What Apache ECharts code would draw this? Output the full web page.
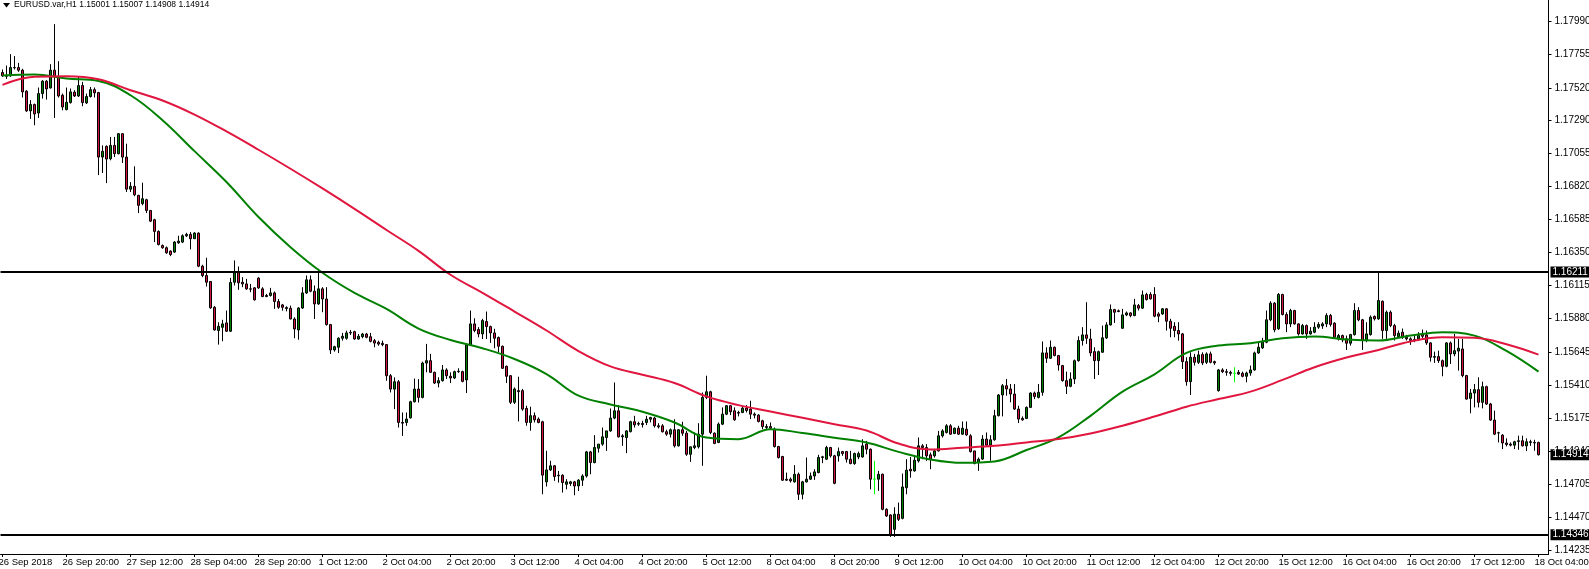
<!DOCTYPE html>
<html><head><meta charset="utf-8">
<script src="https://cdn.jsdelivr.net/npm/echarts@6/dist/echarts.min.js"></script>
<style>html,body{margin:0;padding:0;background:#fff;overflow:hidden}#c{width:1589px;height:569px}</style>
</head><body><div id="c"></div>
<script>
// ---------------- DATA ----------------
const symbolTitle = 'EURUSD.var,H1';
const headerOHLC = ['1.15001', '1.15007', '1.14908', '1.14914'];
const firstBarUTC = Date.UTC(2018, 8, 26, 4); // 26 Sep 2018 04:00, hourly bars, weekends skipped
const emptyBarsRight = 2;

const opens = [
1.17628,1.17609,1.17605,1.17664,1.17664,1.17645,1.17496,1.17356,1.17401,1.17341,
1.17479,1.17567,1.17519,1.17645,1.17602,1.17467,1.17365,1.17415,1.17489,1.17462,
1.17536,1.17413,1.17458,1.17507,1.17486,1.17028,1.17104,1.17016,1.17111,1.17052,
1.17194,1.17028,1.16800,1.16820,1.16756,1.16697,1.16725,1.16649,1.16583,1.16500,
1.16400,1.16384,1.16360,1.16353,1.16419,1.16424,1.16469,1.16479,1.16448,1.16488,
1.16253,1.16187,1.16144,1.15961,1.15796,1.15819,1.15850,1.15791,1.16139,1.16211,
1.16139,1.16127,1.16092,1.16099,1.16168,1.16092,1.16045,1.16045,1.16063,1.16002,
1.15978,1.15959,1.15954,1.15878,1.15800,1.15956,1.16063,1.16156,1.16075,1.15985,
1.16092,1.16020,1.15838,1.15658,1.15677,1.15741,1.15741,1.15783,1.15788,1.15736,
1.15752,1.15771,1.15752,1.15724,1.15712,1.15705,1.15696,1.15475,1.15380,1.15432,
1.15143,1.15143,1.15176,1.15290,1.15380,1.15321,1.15565,1.15582,1.15499,1.15423,
1.15440,1.15516,1.15471,1.15459,1.15504,1.15504,1.15445,1.15694,1.15843,1.15803,
1.15772,1.15860,1.15824,1.15779,1.15746,1.15684,1.15542,1.15475,1.15286,1.15369,
1.15369,1.15243,1.15143,1.15191,1.15167,1.15148,1.14721,1.14806,1.14835,1.14764,
1.14768,1.14704,1.14709,1.14721,1.14692,1.14733,1.14763,1.14934,1.14858,1.14960,
1.14989,1.15036,1.15083,1.15174,1.15226,1.15041,1.15036,1.15078,1.15148,1.15131,
1.15136,1.15143,1.15166,1.15174,1.15119,1.15119,1.15077,1.15060,1.15091,1.14977,
1.15091,1.15067,1.14917,1.14965,1.14970,1.15060,1.15321,1.15361,1.15067,1.15001,
1.15131,1.15202,1.15262,1.15226,1.15214,1.15214,1.15245,1.15238,1.15202,1.15195,
1.15155,1.15114,1.15114,1.15095,1.14972,1.14901,1.14740,1.14740,1.14721,1.14775,
1.14633,1.14721,1.14740,1.14763,1.14787,1.14894,1.14882,1.14965,1.14906,1.14906,
1.14936,1.14936,1.14882,1.14851,1.14898,1.14898,1.14989,1.14953,1.14740,1.14740,
1.14775,1.14526,1.14486,1.14384,1.14491,1.14462,1.14680,1.14811,1.14799,1.14870,
1.14977,1.14965,1.14913,1.14906,1.14941,1.15048,1.15072,1.15119,1.15065,1.15102,
1.15060,1.15095,1.15048,1.14941,1.14858,1.14883,1.15025,1.14982,1.15020,1.15191,
1.15338,1.15404,1.15381,1.15345,1.15238,1.15172,1.15172,1.15250,1.15352,1.15321,
1.15357,1.15637,1.15599,1.15677,1.15618,1.15547,1.15440,1.15400,1.15452,1.15582,
1.15725,1.15765,1.15736,1.15646,1.15582,1.15642,1.15744,1.15836,1.15945,1.15936,
1.15812,1.15907,1.15921,1.15902,1.15973,1.15955,1.16052,1.16052,1.16052,1.15914,
1.15914,1.15950,1.15862,1.15826,1.15796,1.15772,1.15575,1.15433,1.15606,1.15570,
1.15625,1.15570,1.15630,1.15575,1.15369,1.15516,1.15504,1.15499,1.15492,1.15499,
1.15492,1.15471,1.15494,1.15516,1.15637,1.15673,1.15713,1.15872,1.15990,1.15808,
1.16052,1.15910,1.15843,1.15938,1.15843,1.15772,1.15831,1.15772,1.15784,1.15820,
1.15829,1.15843,1.15903,1.15848,1.15737,1.15760,1.15737,1.15706,1.15767,1.15938,
1.15872,1.15725,1.15767,1.15896,1.15879,1.16004,1.15796,1.15926,1.15831,1.15753,
1.15784,1.15748,1.15737,1.15725,1.15737,1.15772,1.15765,1.15708,1.15606,1.15611,
1.15582,1.15542,1.15708,1.15630,1.15650,1.15665,1.15476,1.15314,1.15352,1.15376,
1.15286,1.15397,1.15274,1.15160,1.15068,1.15053,1.14997,1.14989,1.14982,1.15008,
1.15013,1.14977,1.15006,1.15001,1.15001];

const highs = [
1.17650,1.17678,1.17759,1.17745,1.17697,1.17655,1.17503,1.17432,1.17408,1.17522,
1.17574,1.17574,1.17688,1.17972,1.17709,1.17479,1.17522,1.17515,1.17503,1.17602,
1.17562,1.17479,1.17526,1.17522,1.17491,1.17111,1.17111,1.17171,1.17171,1.17199,
1.17199,1.17123,1.16850,1.16962,1.16760,1.16846,1.16732,1.16652,1.16590,1.16507,
1.16407,1.16393,1.16365,1.16431,1.16469,1.16479,1.16490,1.16495,1.16495,1.16493,
1.16263,1.16313,1.16144,1.15969,1.15855,1.15872,1.15938,1.16170,1.16294,1.16251,
1.16175,1.16163,1.16127,1.16104,1.16175,1.16104,1.16056,1.16099,1.16073,1.16020,
1.15985,1.15968,1.15973,1.15890,1.15961,1.16104,1.16187,1.16187,1.16116,1.16234,
1.16104,1.16104,1.15843,1.15688,1.15748,1.15779,1.15795,1.15800,1.15795,1.15771,
1.15779,1.15779,1.15779,1.15736,1.15724,1.15724,1.15700,1.15487,1.15463,1.15444,
1.15214,1.15214,1.15297,1.15455,1.15451,1.15575,1.15701,1.15630,1.15504,1.15464,
1.15551,1.15528,1.15499,1.15511,1.15528,1.15511,1.15698,1.15938,1.15883,1.15820,
1.15879,1.15931,1.15831,1.15808,1.15753,1.15689,1.15547,1.15480,1.15392,1.15468,
1.15381,1.15262,1.15255,1.15214,1.15179,1.15155,1.14942,1.14871,1.14840,1.14799,
1.14775,1.14740,1.14728,1.14728,1.14740,1.14775,1.14941,1.14941,1.15053,1.14989,
1.15107,1.15083,1.15242,1.15427,1.15266,1.15060,1.15088,1.15155,1.15190,1.15148,
1.15155,1.15190,1.15183,1.15183,1.15138,1.15131,1.15091,1.15100,1.15166,1.15095,
1.15148,1.15083,1.14970,1.15072,1.15138,1.15356,1.15475,1.15368,1.15072,1.15143,
1.15250,1.15266,1.15266,1.15250,1.15226,1.15257,1.15266,1.15297,1.15214,1.15202,
1.15162,1.15131,1.15143,1.15107,1.14977,1.14906,1.14787,1.14752,1.14840,1.14787,
1.14728,1.14894,1.14787,1.14811,1.14913,1.14906,1.14977,1.14970,1.14913,1.14965,
1.14941,1.14941,1.14941,1.14929,1.14936,1.15024,1.15012,1.14958,1.14870,1.14799,
1.14780,1.14533,1.14491,1.14541,1.14574,1.14780,1.14882,1.14898,1.14898,1.15036,
1.14989,1.14989,1.14929,1.14953,1.15083,1.15095,1.15131,1.15131,1.15107,1.15119,
1.15150,1.15150,1.15060,1.14941,1.14894,1.15053,1.15072,1.15053,1.15233,1.15345,
1.15416,1.15452,1.15416,1.15416,1.15262,1.15186,1.15257,1.15357,1.15362,1.15416,
1.15718,1.15677,1.15725,1.15682,1.15623,1.15552,1.15504,1.15499,1.15590,1.15755,
1.15820,1.15997,1.15808,1.15677,1.15653,1.15831,1.15855,1.15981,1.15950,1.15945,
1.15950,1.15931,1.15926,1.16021,1.15985,1.16080,1.16064,1.16068,1.16104,1.15926,
1.15955,1.15955,1.15879,1.15855,1.15855,1.15779,1.15606,1.15641,1.15630,1.15653,
1.15641,1.15641,1.15646,1.15582,1.15523,1.15528,1.15523,1.15511,1.15535,1.15516,
1.15504,1.15504,1.15547,1.15646,1.15713,1.15744,1.15938,1.16004,1.15998,1.16062,
1.16057,1.15926,1.15950,1.15943,1.15848,1.15843,1.15839,1.15820,1.15855,1.15855,
1.15855,1.15919,1.15914,1.15855,1.15772,1.15767,1.15760,1.15772,1.15990,1.15962,
1.15879,1.15855,1.15903,1.15903,1.16211,1.16009,1.15938,1.15938,1.15843,1.15796,
1.15810,1.15765,1.15748,1.15760,1.15784,1.15803,1.15796,1.15713,1.15646,1.15653,
1.15590,1.15713,1.15718,1.15772,1.15737,1.15737,1.15481,1.15381,1.15416,1.15464,
1.15433,1.15404,1.15282,1.15227,1.15077,1.15060,1.15030,1.15001,1.15013,1.15049,
1.15049,1.15030,1.15020,1.15020,1.15007];

const lows = [
1.17598,1.17583,1.17598,1.17650,1.17633,1.17451,1.17349,1.17299,1.17254,1.17306,
1.17443,1.17436,1.17515,1.17306,1.17451,1.17360,1.17360,1.17408,1.17455,1.17455,
1.17389,1.17405,1.17451,1.17451,1.16900,1.16915,1.16843,1.17005,1.17028,1.17047,
1.16986,1.16780,1.16780,1.16750,1.16630,1.16685,1.16630,1.16566,1.16424,1.16400,
1.16377,1.16341,1.16324,1.16348,1.16412,1.16417,1.16460,1.16372,1.16448,1.16246,
1.16175,1.16109,1.15950,1.15796,1.15696,1.15720,1.15786,1.15786,1.16116,1.16085,
1.16104,1.16085,1.16068,1.16009,1.16092,1.16033,1.16033,1.16037,1.15950,1.15950,
1.15937,1.15932,1.15876,1.15741,1.15731,1.15949,1.16056,1.16068,1.15878,1.15978,
1.15926,1.15831,1.15629,1.15646,1.15636,1.15724,1.15731,1.15764,1.15731,1.15731,
1.15741,1.15741,1.15712,1.15677,1.15688,1.15684,1.15439,1.15356,1.15238,1.15107,
1.15048,1.15119,1.15171,1.15285,1.15285,1.15314,1.15499,1.15497,1.15416,1.15392,
1.15433,1.15452,1.15423,1.15452,1.15495,1.15428,1.15352,1.15689,1.15784,1.15748,
1.15736,1.15736,1.15708,1.15670,1.15641,1.15523,1.15423,1.15274,1.15274,1.15150,
1.15226,1.15120,1.15084,1.15143,1.15137,1.14633,1.14688,1.14799,1.14728,1.14716,
1.14645,1.14668,1.14692,1.14626,1.14656,1.14692,1.14751,1.14775,1.14853,1.14929,
1.14977,1.14941,1.15077,1.15166,1.15036,1.14977,1.14925,1.15072,1.15107,1.15119,
1.15107,1.15124,1.15143,1.15107,1.15100,1.15072,1.15048,1.15036,1.14965,1.14972,
1.15048,1.14906,1.14863,1.14953,1.14958,1.14835,1.15309,1.15060,1.14989,1.14996,
1.15124,1.15195,1.15195,1.15155,1.15186,1.15209,1.15214,1.15167,1.15172,1.15143,
1.15095,1.15095,1.15090,1.14965,1.14887,1.14728,1.14728,1.14716,1.14716,1.14593,
1.14597,1.14716,1.14735,1.14735,1.14782,1.14854,1.14877,1.14894,1.14704,1.14865,
1.14906,1.14858,1.14846,1.14842,1.14882,1.14894,1.14917,1.14668,1.14633,1.14657,
1.14519,1.14472,1.14330,1.14330,1.14443,1.14455,1.14633,1.14751,1.14794,1.14858,
1.14882,1.14870,1.14811,1.14894,1.14936,1.15036,1.15065,1.15055,1.15060,1.15055,
1.15055,1.15048,1.14929,1.14846,1.14799,1.14878,1.14977,1.14871,1.15013,1.15186,
1.15186,1.15333,1.15286,1.15233,1.15139,1.15155,1.15167,1.15245,1.15309,1.15314,
1.15333,1.15566,1.15594,1.15613,1.15511,1.15433,1.15345,1.15393,1.15416,1.15575,
1.15689,1.15701,1.15613,1.15452,1.15480,1.15637,1.15736,1.15831,1.15850,1.15926,
1.15808,1.15898,1.15890,1.15898,1.15938,1.15950,1.16009,1.16016,1.15890,1.15855,
1.15907,1.15796,1.15748,1.15748,1.15724,1.15523,1.15404,1.15338,1.15547,1.15558,
1.15551,1.15558,1.15563,1.15552,1.15362,1.15494,1.15475,1.15475,1.15428,1.15480,
1.15464,1.15428,1.15475,1.15511,1.15630,1.15665,1.15706,1.15862,1.15784,1.15801,
1.15903,1.15784,1.15820,1.15839,1.15760,1.15767,1.15737,1.15767,1.15777,1.15808,
1.15808,1.15820,1.15824,1.15737,1.15725,1.15713,1.15658,1.15689,1.15760,1.15862,
1.15658,1.15713,1.15760,1.15867,1.15872,1.15737,1.15737,1.15820,1.15725,1.15744,
1.15737,1.15725,1.15694,1.15713,1.15725,1.15742,1.15694,1.15575,1.15566,1.15566,
1.15471,1.15535,1.15559,1.15613,1.15511,1.15464,1.15305,1.15208,1.15250,1.15250,
1.15243,1.15267,1.15155,1.15053,1.15001,1.14954,1.14973,1.14973,1.14954,1.14949,
1.14973,1.14940,1.14977,1.14942,1.14908];

const closes = [
1.17605,1.17602,1.17664,1.17662,1.17645,1.17491,1.17356,1.17401,1.17334,1.17479,
1.17567,1.17512,1.17645,1.17602,1.17462,1.17384,1.17417,1.17491,1.17462,1.17536,
1.17415,1.17458,1.17507,1.17484,1.17028,1.17069,1.17014,1.17111,1.17052,1.17194,
1.17028,1.16800,1.16820,1.16760,1.16685,1.16732,1.16649,1.16573,1.16500,1.16407,
1.16384,1.16348,1.16336,1.16424,1.16431,1.16469,1.16479,1.16448,1.16488,1.16253,
1.16187,1.16139,1.15957,1.15800,1.15826,1.15843,1.15791,1.16137,1.16206,1.16135,
1.16127,1.16092,1.16090,1.16014,1.16099,1.16037,1.16037,1.16063,1.16002,1.15961,
1.15961,1.15952,1.15878,1.15807,1.15956,1.16063,1.16156,1.16075,1.15985,1.16092,
1.16020,1.15838,1.15658,1.15681,1.15741,1.15755,1.15779,1.15779,1.15736,1.15755,
1.15771,1.15748,1.15719,1.15707,1.15700,1.15696,1.15475,1.15380,1.15432,1.15143,
1.15138,1.15167,1.15290,1.15380,1.15321,1.15565,1.15582,1.15499,1.15423,1.15440,
1.15516,1.15475,1.15459,1.15504,1.15507,1.15435,1.15694,1.15843,1.15796,1.15772,
1.15867,1.15824,1.15779,1.15741,1.15684,1.15528,1.15471,1.15286,1.15381,1.15362,
1.15238,1.15143,1.15191,1.15162,1.15143,1.14769,1.14806,1.14835,1.14759,1.14768,
1.14716,1.14721,1.14721,1.14692,1.14733,1.14763,1.14934,1.14858,1.14965,1.14989,
1.15041,1.15083,1.15174,1.15226,1.15041,1.15048,1.15083,1.15148,1.15126,1.15136,
1.15128,1.15166,1.15178,1.15119,1.15112,1.15077,1.15060,1.15091,1.14977,1.15091,
1.15067,1.14917,1.14970,1.14977,1.15060,1.15321,1.15361,1.15072,1.14994,1.15131,
1.15202,1.15262,1.15219,1.15162,1.15209,1.15245,1.15228,1.15202,1.15195,1.15150,
1.15114,1.15107,1.15102,1.14972,1.14894,1.14733,1.14733,1.14728,1.14775,1.14633,
1.14721,1.14740,1.14763,1.14792,1.14894,1.14899,1.14965,1.14906,1.14711,1.14936,
1.14922,1.14882,1.14851,1.14922,1.14922,1.14977,1.14953,1.14740,1.14740,1.14775,
1.14526,1.14479,1.14345,1.14491,1.14455,1.14685,1.14804,1.14799,1.14875,1.14977,
1.14965,1.14906,1.14882,1.14941,1.15048,1.15083,1.15119,1.15060,1.15102,1.15060,
1.15102,1.15055,1.14936,1.14851,1.14882,1.15025,1.14982,1.15020,1.15191,1.15338,
1.15404,1.15381,1.15345,1.15238,1.15167,1.15162,1.15250,1.15352,1.15328,1.15357,
1.15637,1.15599,1.15677,1.15618,1.15551,1.15440,1.15400,1.15452,1.15582,1.15725,
1.15765,1.15741,1.15637,1.15582,1.15646,1.15744,1.15836,1.15945,1.15926,1.15931,
1.15907,1.15921,1.15902,1.15978,1.15955,1.16049,1.16016,1.16021,1.15898,1.15898,
1.15950,1.15862,1.15812,1.15796,1.15772,1.15575,1.15433,1.15606,1.15570,1.15623,
1.15566,1.15630,1.15570,1.15566,1.15516,1.15504,1.15499,1.15492,1.15492,1.15487,
1.15471,1.15494,1.15516,1.15637,1.15677,1.15713,1.15872,1.15990,1.15801,1.16052,
1.15910,1.15843,1.15938,1.15843,1.15772,1.15831,1.15772,1.15791,1.15820,1.15839,
1.15843,1.15903,1.15839,1.15748,1.15760,1.15729,1.15706,1.15767,1.15938,1.15872,
1.15725,1.15772,1.15891,1.15879,1.16009,1.15796,1.15926,1.15831,1.15760,1.15777,
1.15748,1.15737,1.15725,1.15733,1.15760,1.15755,1.15708,1.15606,1.15611,1.15582,
1.15542,1.15708,1.15630,1.15653,1.15670,1.15476,1.15309,1.15352,1.15376,1.15286,
1.15397,1.15274,1.15160,1.15060,1.15070,1.14997,1.14987,1.14982,1.15006,1.15013,
1.14977,1.15006,1.15001,1.14997,1.14914];

// Moving averages, one value every maStep bars (bar 0, 8, 16, ...)
const maStep = 8;
const maGreen = [
1.17607,1.17614,1.17586,1.17569,1.17467,1.17290,1.17070,1.16851,1.16602,1.16388,
1.16206,1.16063,1.15949,1.15810,1.15729,1.15670,1.15594,1.15487,1.15333,1.15271,
1.15219,1.15143,1.15036,1.15024,1.15095,1.15068,1.15034,1.15000,1.14934,1.14880,
1.14856,1.14866,1.14947,1.15037,1.15190,1.15362,1.15485,1.15637,1.15689,1.15706,
1.15741,1.15753,1.15732,1.15725,1.15760,1.15784,1.15760,1.15651,1.15504];
const maRed = [
1.17541,1.17598,1.17602,1.17581,1.17503,1.17430,1.17330,1.17210,1.17080,1.16945,
1.16805,1.16660,1.16510,1.16362,1.16192,1.16064,1.15931,1.15796,1.15650,1.15541,
1.15482,1.15423,1.15328,1.15266,1.15221,1.15176,1.15131,1.15086,1.14993,1.14951,
1.14963,1.14977,1.15001,1.15025,1.15065,1.15120,1.15185,1.15255,1.15309,1.15362,
1.15445,1.15535,1.15604,1.15658,1.15718,1.15748,1.15744,1.15699,1.15625];

const levelLines = ['1.16211', '1.14346'];
const lastPrice = '1.14914';
const priceTicks = [1.17990,1.17755,1.17520,1.17290,1.17055,1.16820,1.16585,1.16350,1.16115,
                    1.15880,1.15645,1.15410,1.15175,1.14940,1.14705,1.14470,1.14235];
const priceMin = 1.142087, priceMax = 1.181436;

// ---------------- BUILD ----------------
const MONTHS = ['Jan','Feb','Mar','Apr','May','Jun','Jul','Aug','Sep','Oct','Nov','Dec'];
function buildTimes(start, count) {
  const out = []; let t = start;
  while (out.length < count) {
    const d = new Date(t); const wd = d.getUTCDay();
    if (wd !== 0 && wd !== 6) {
      const hh = String(d.getUTCHours()).padStart(2, '0');
      out.push(out.length === 0
        ? d.getUTCDate() + ' ' + MONTHS[d.getUTCMonth()] + ' ' + d.getUTCFullYear()
        : d.getUTCDate() + ' ' + MONTHS[d.getUTCMonth()] + ' ' + hh + ':00');
    }
    t += 3600000;
  }
  return out;
}
const times = buildTimes(firstBarUTC, opens.length + emptyBarsRight);

const LIME = '#00ff00';
const candleData = opens.map((o, i) => {
  const v = [o, closes[i], lows[i], highs[i]];
  if (o === closes[i]) {
    return {value: v, itemStyle: {color: LIME, color0: LIME, borderColor: LIME, borderColor0: LIME, borderColorDoji: LIME}};
  }
  return v;
});
const greenData = maGreen.map((v, k) => [k * maStep, v]);
const redData = maRed.map((v, k) => [k * maStep, v]);

const FONT = 'Liberation Sans, Arial, sans-serif';
const boxLabel = {
  show: true, position: 'end', formatter: '{b}', distance: 2,
  backgroundColor: '#000', color: '#fff', fontFamily: FONT, fontSize: 10,
  padding: [1, 2, 0, 2]
};

const chart = echarts.init(document.getElementById('c'), null, {renderer: 'canvas'});
chart.setOption({
  animation: false,
  backgroundColor: '#fff',
  grid: {left: 0.5, right: 40.5, top: 0, bottom: 15, containLabel: false, outerBoundsMode: 'none'},
  graphic: [
    {type: 'polygon', shape: {points: [[3, 3], [10, 3], [6.5, 7.5]]}, style: {fill: '#000'}},
    {type: 'text', x: 14, y: 0, style: {text: symbolTitle + ' ' + headerOHLC.join(' '), fill: '#000', font: '8.5px ' + FONT, textVerticalAlign: 'top'}}
  ],
  xAxis: {
    type: 'category', data: times, boundaryGap: true,
    axisLine: {show: true, lineStyle: {color: '#000', width: 1}},
    axisTick: {show: true, interval: 15, alignWithLabel: true, length: 3, lineStyle: {color: '#000'}},
    axisLabel: {interval: 15, align: 'left', color: '#000', fontFamily: FONT, fontSize: 9.5, margin: 3, padding: [0, 0, 0, -4]},
    splitLine: {show: false}
  },
  yAxis: {
    type: 'value', position: 'right', min: priceMin, max: priceMax, scale: true,
    axisLine: {show: true, lineStyle: {color: '#000', width: 1}},
    axisTick: {show: true, customValues: priceTicks, length: 3, lineStyle: {color: '#000'}},
    axisLabel: {customValues: priceTicks, formatter: v => v.toFixed(5), color: '#000', fontFamily: FONT, fontSize: 10, margin: 6},
    splitLine: {show: false}
  },
  series: [
    {
      type: 'candlestick', data: candleData, barWidth: 2,
      itemStyle: {color: '#008000', color0: '#d0143a', borderColor: '#000', borderColor0: '#000', borderColorDoji: LIME, borderWidth: 1},
      markLine: {
        symbol: 'none', silent: true, animation: false, precision: 5,
        data: [
          {name: levelLines[0], yAxis: Number(levelLines[0]), lineStyle: {color: '#000', width: 2, type: 'solid'}, label: boxLabel},
          {name: levelLines[1], yAxis: Number(levelLines[1]), lineStyle: {color: '#000', width: 2, type: 'solid'}, label: boxLabel},
          {name: lastPrice, yAxis: Number(lastPrice), lineStyle: {color: 'rgba(0,0,0,0)', width: 0}, label: boxLabel}
        ]
      },
      z: 2
    },
    {type: 'line', data: greenData, smooth: 0.4, showSymbol: false, lineStyle: {color: '#008000', width: 2}, z: 3, silent: true},
    {type: 'line', data: redData, smooth: 0.4, showSymbol: false, lineStyle: {color: '#e0163f', width: 2}, z: 3, silent: true}
  ]
});
</script>
</body></html>
